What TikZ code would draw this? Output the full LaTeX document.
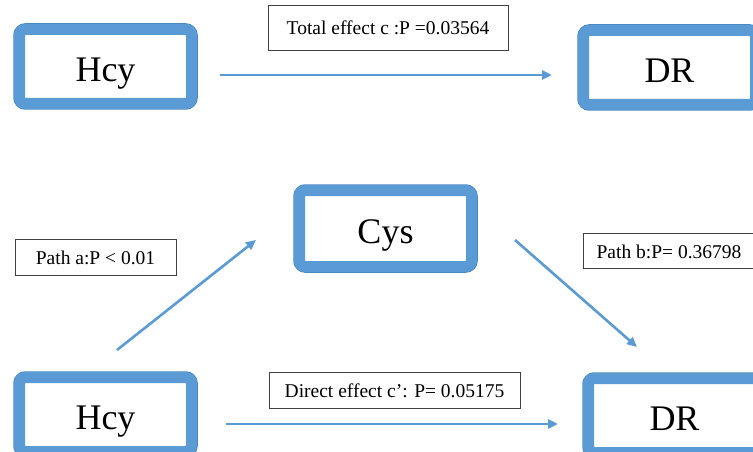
\documentclass[tikz,border=0pt]{standalone}
\usepackage{fontspec}
\setmainfont{Liberation Serif}
\usetikzlibrary{arrows.meta}
\definecolor{boxblue}{HTML}{5B9BD5}
\definecolor{boxrim}{HTML}{4A86C0}
\definecolor{arrowblue}{HTML}{5B9BD5}
\definecolor{labelgray}{HTML}{404040}
\tikzset{
  varbox/.style={rectangle, draw=boxblue, line width=11pt, rounded corners=6pt,
    minimum width=172pt, minimum height=74pt, inner sep=0pt, fill=white,
    preaction={draw=boxrim, line width=12.5pt},
    text height=30pt, text depth=0pt,
    font=\fontsize{36}{40}\selectfont},
  pbox/.style={rectangle, draw=labelgray, line width=0.9pt, inner sep=0pt,
    fill=white, text height=15pt, text depth=0pt,
    font=\fontsize{19.5}{22}\selectfont},
  link/.style={draw=arrowblue, line width=2.6pt,
    -{Triangle[length=10pt,width=9pt]}}
}
\begin{document}
\begin{tikzpicture}[x=1pt,y=-1pt]
\fill[white] (0,0) rectangle (753,452);
\useasboundingbox (0,0) rectangle (753,452);
% main variable boxes
\node[varbox] (hcy1) at (105.5,66.5) {Hcy};
\node[varbox] (dr1) at (669.5,67.5) {DR};
\node[varbox, minimum height=76pt] (cys) at (385.5,228.5) {Cys};
\node[varbox] (hcy2) at (105.5,414.5) {Hcy};
\node[varbox] (dr2) at (674.5,415.5) {DR};
% label boxes
\node[pbox, minimum width=240pt, minimum height=45pt] (ltot) at (388,27.5) {Total effect c :P =0.03564};
\node[pbox, minimum width=161pt, minimum height=36pt] (lpa) at (95.5,257) {Path a:P < 0.01};
\node[pbox, minimum width=172pt, minimum height=35pt] (lpb) at (669,250.5) {Path b:P= 0.36798};
\node[pbox, minimum width=251pt, minimum height=36pt] (ldir) at (394.5,390) {Direct effect c’: P= 0.05175};
% connectors
\draw[link] ([shift={(23,8.5)}]hcy1.east) -- ([shift={(-26,7.5)}]dr1.west);
\draw[link] ([shift={(11.5,-22)}]hcy2.north) -- ([shift={(-38,11.5)}]cys.west);
\draw[link] ([shift={(38,11.5)}]cys.east) -- ([shift={(-37.5,-26)}]dr2.north);
\draw[link] ([shift={(29,9.5)}]hcy2.east) -- ([shift={(-25,8.5)}]dr2.west);
\end{tikzpicture}
\end{document}
